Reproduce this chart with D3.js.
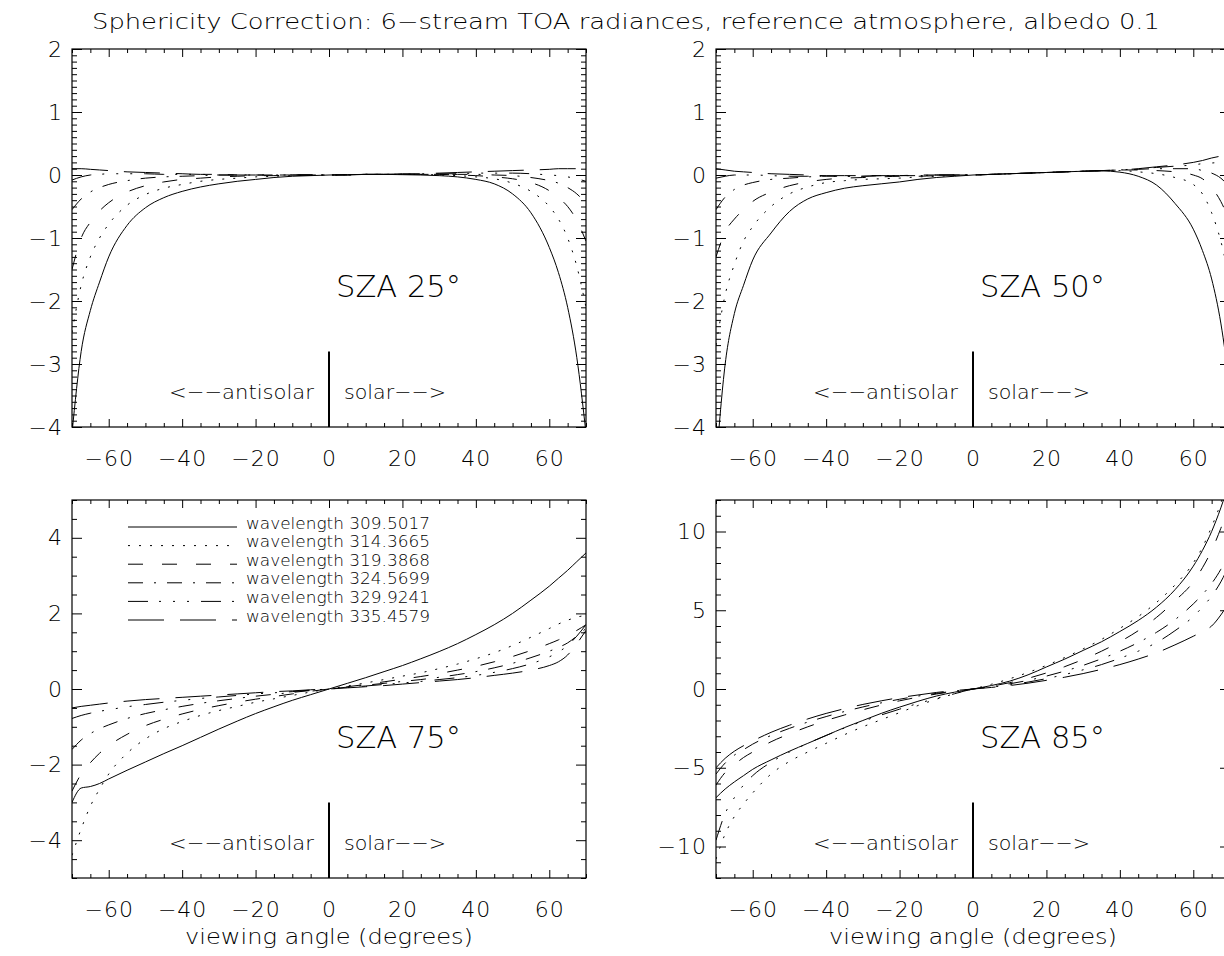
<!DOCTYPE html>
<html>
<head>
<meta charset="utf-8">
<script src="https://cdn.jsdelivr.net/npm/d3@7"></script>
<style>
  body { margin: 0; background: #fff; }
  svg { display: block; }
  text { font-family: "DejaVu Sans", sans-serif; font-weight: 200; fill: #000; }
  .tick text { font-size: 22px; letter-spacing: 1px; }
</style>
</head>
<body>
<script>
// viewing angles (degrees), negative = antisolar side
const angles = [-70,-67.5,-65,-62.5,-60,-55,-50,-45,-40,-35,-30,-25,-20,-15,-10,-5,0,
                5,10,15,20,25,30,35,40,45,50,55,60,62.5,65,67.5,70];

const wavelengths = ["309.5017", "314.3665", "319.3868", "324.5699", "329.9241", "335.4579"];

// IDL linestyles 0..5
const dashes = ["none", "2,9", "15,19", "15,11,2,11", "20,11,2,12,2,12,2,12", "36,16"];

const sza25 = [
  [-4.1,-2.8,-2.15,-1.7,-1.3,-0.8,-0.52,-0.36,-0.26,-0.19,-0.14,-0.1,-0.07,-0.04,-0.02,-0.01,0,0.005,0.01,0.01,0.005,0,-0.01,-0.03,-0.07,-0.14,-0.3,-0.6,-1.15,-1.55,-2.1,-2.9,-4.1],
  [-2.5,-1.75,-1.3,-1.0,-0.78,-0.48,-0.31,-0.21,-0.15,-0.1,-0.07,-0.05,-0.03,-0.02,-0.01,0,0,0.005,0.01,0.01,0.01,0.01,0,-0.01,-0.03,-0.06,-0.13,-0.26,-0.5,-0.7,-1.0,-1.45,-2.1],
  [-1.5,-1.0,-0.75,-0.57,-0.44,-0.27,-0.17,-0.11,-0.07,-0.05,-0.03,-0.02,-0.01,-0.01,0,0,0,0.005,0.01,0.01,0.01,0.01,0.01,0,-0.01,-0.03,-0.06,-0.12,-0.25,-0.36,-0.5,-0.72,-1.05],
  [-0.55,-0.38,-0.27,-0.2,-0.15,-0.09,-0.05,-0.03,-0.02,-0.01,0,0,0,0,0,0,0,0,0.01,0.01,0.01,0.01,0.01,0.01,0.01,0,-0.01,-0.04,-0.09,-0.13,-0.2,-0.3,-0.45],
  [-0.08,-0.03,0,0.01,0.02,0.02,0.02,0.01,0.01,0.01,0,0,0,0,0,0,0,0,0.01,0.01,0.01,0.02,0.02,0.02,0.03,0.03,0.03,0.02,0,-0.01,-0.03,-0.06,-0.1],
  [0.1,0.1,0.09,0.08,0.07,0.05,0.04,0.03,0.02,0.01,0.01,0,0,0,0,0,0,0,0.01,0.01,0.02,0.02,0.03,0.04,0.05,0.06,0.07,0.08,0.09,0.1,0.1,0.1,0.1]
];

const sza50 = [
  [-4.6,-3.0,-2.2,-1.75,-1.35,-0.92,-0.58,-0.38,-0.28,-0.21,-0.17,-0.14,-0.11,-0.07,-0.04,-0.02,0,0.01,0.02,0.03,0.04,0.05,0.06,0.065,0.045,-0.02,-0.16,-0.45,-0.86,-1.2,-1.65,-2.35,-3.4],
  [-2.7,-1.9,-1.42,-1.05,-0.82,-0.5,-0.3,-0.19,-0.12,-0.09,-0.07,-0.06,-0.05,-0.03,-0.02,-0.01,0,0.01,0.02,0.03,0.04,0.05,0.06,0.07,0.07,0.05,0.02,-0.04,-0.15,-0.3,-0.6,-1.05,-1.7],
  [-1.3,-0.9,-0.7,-0.55,-0.42,-0.27,-0.17,-0.11,-0.07,-0.05,-0.04,-0.03,-0.02,-0.02,-0.01,0,0,0.01,0.02,0.03,0.04,0.05,0.06,0.07,0.08,0.08,0.07,0.05,0,-0.06,-0.2,-0.42,-0.75],
  [-0.55,-0.35,-0.23,-0.16,-0.12,-0.07,-0.05,-0.03,-0.02,-0.02,-0.02,-0.01,-0.01,-0.01,0,0,0,0.01,0.02,0.03,0.04,0.05,0.06,0.07,0.08,0.09,0.1,0.1,0.1,0.07,0.03,-0.05,-0.2],
  [-0.05,-0.02,0,0,0,-0.01,-0.02,-0.02,-0.02,-0.02,-0.02,-0.01,-0.01,-0.01,0,0,0,0.01,0.02,0.03,0.04,0.05,0.06,0.07,0.08,0.1,0.12,0.14,0.16,0.18,0.19,0.2,0.2],
  [0.1,0.08,0.06,0.05,0.04,0.02,0.01,0,-0.01,-0.01,-0.01,-0.01,-0.01,0,0,0,0,0.01,0.02,0.03,0.04,0.05,0.06,0.07,0.08,0.1,0.13,0.16,0.2,0.23,0.27,0.3,0.33]
];

const sza75 = [
  [-3.0,-2.62,-2.58,-2.5,-2.38,-2.15,-1.93,-1.71,-1.5,-1.28,-1.06,-0.85,-0.65,-0.47,-0.3,-0.15,0,0.15,0.3,0.46,0.62,0.8,0.99,1.2,1.44,1.7,2.0,2.35,2.72,2.93,3.14,3.37,3.6],
  [-4.4,-3.7,-3.1,-2.65,-2.25,-1.7,-1.32,-1.05,-0.86,-0.7,-0.57,-0.46,-0.35,-0.26,-0.17,-0.08,0,0.08,0.16,0.25,0.34,0.43,0.54,0.66,0.8,0.96,1.15,1.37,1.6,1.72,1.82,1.9,1.95],
  [-2.7,-2.25,-1.95,-1.7,-1.5,-1.2,-0.97,-0.8,-0.66,-0.54,-0.44,-0.35,-0.27,-0.2,-0.13,-0.06,0,0.06,0.12,0.19,0.26,0.33,0.41,0.5,0.6,0.72,0.86,1.02,1.2,1.3,1.42,1.55,1.7],
  [-1.6,-1.35,-1.18,-1.05,-0.95,-0.78,-0.65,-0.55,-0.46,-0.38,-0.31,-0.25,-0.19,-0.14,-0.09,-0.04,0,0.05,0.1,0.15,0.2,0.25,0.31,0.38,0.46,0.56,0.68,0.83,1.0,1.1,1.22,1.4,1.6],
  [-0.78,-0.7,-0.64,-0.59,-0.55,-0.47,-0.41,-0.35,-0.3,-0.25,-0.21,-0.17,-0.13,-0.1,-0.07,-0.03,0,0.04,0.08,0.12,0.16,0.2,0.25,0.3,0.36,0.44,0.54,0.67,0.85,0.98,1.15,1.4,1.7],
  [-0.5,-0.46,-0.43,-0.4,-0.37,-0.32,-0.28,-0.25,-0.22,-0.19,-0.16,-0.13,-0.1,-0.07,-0.05,-0.02,0,0.03,0.06,0.09,0.13,0.17,0.21,0.25,0.3,0.36,0.42,0.5,0.62,0.72,0.9,1.2,1.55]
];

const sza85 = [
  [-6.9,-6.35,-5.9,-5.5,-5.1,-4.5,-3.95,-3.45,-2.95,-2.45,-2.0,-1.55,-1.15,-0.78,-0.45,-0.2,0,0.22,0.5,0.9,1.4,1.9,2.45,3.0,3.65,4.35,5.2,6.3,7.8,8.8,10.0,11.5,13.3],
  [-10.8,-9.2,-8.1,-7.3,-6.6,-5.4,-4.6,-4.0,-3.45,-2.9,-2.4,-1.95,-1.5,-1.05,-0.65,-0.3,0,0.3,0.65,1.05,1.5,2.0,2.55,3.15,3.85,4.6,5.5,6.6,8.0,9.0,10.3,11.8,13.6],
  [-6.1,-5.3,-4.8,-4.35,-4.0,-3.35,-2.85,-2.4,-2.0,-1.65,-1.32,-1.02,-0.75,-0.52,-0.32,-0.15,0,0.18,0.4,0.68,1.02,1.42,1.88,2.4,3.0,3.7,4.55,5.6,6.8,7.7,8.8,10.2,11.8],
  [-5.4,-4.7,-4.2,-3.85,-3.5,-2.95,-2.5,-2.1,-1.75,-1.43,-1.14,-0.88,-0.65,-0.45,-0.28,-0.13,0,0.15,0.33,0.55,0.82,1.14,1.5,1.92,2.4,2.95,3.6,4.4,5.4,6.0,6.7,7.6,8.8],
  [-9.6,-7.9,-6.9,-6.1,-5.5,-4.65,-4.0,-3.45,-2.95,-2.48,-2.05,-1.65,-1.28,-0.92,-0.6,-0.3,0,0.12,0.26,0.44,0.66,0.92,1.22,1.55,1.95,2.4,2.95,3.7,4.6,5.2,5.9,6.8,8.0],
  [-5.0,-4.4,-3.95,-3.6,-3.3,-2.75,-2.3,-1.9,-1.55,-1.25,-0.98,-0.75,-0.55,-0.38,-0.22,-0.1,0,0.1,0.22,0.37,0.55,0.75,0.98,1.25,1.55,1.9,2.3,2.8,3.35,3.65,4.0,4.7,5.6]
];

const xTicks = [-60, -40, -20, 0, 20, 40, 60];
const yTicksTop = [-4, -3, -2, -1, 0, 1, 2];
const yTicks75 = [-4, -2, 0, 2, 4];
const yTicks85 = [-10, -5, 0, 5, 10];

const title = "Sphericity Correction: 6\u2212stream TOA radiances, reference atmosphere, albedo 0.1";

const panels = [
  { label: "SZA 25\u00b0", data: sza25, col: 0, row: 0, ydom: [-4, 2],   yticks: yTicksTop, ystep: 0.1 },
  { label: "SZA 50\u00b0", data: sza50, col: 1, row: 0, ydom: [-4, 2],   yticks: yTicksTop, ystep: 0.1 },
  { label: "SZA 75\u00b0", data: sza75, col: 0, row: 1, ydom: [-5, 5],   yticks: yTicks75,  ystep: 0.5, legend: true },
  { label: "SZA 85\u00b0", data: sza85, col: 1, row: 1, ydom: [-12, 12], yticks: yTicks85,  ystep: 1 }
];

const W = 1224, H = 956;
const colX = [72, 716], rowY = [49, 500];
const pw = 514, ph = 378;

const svg = d3.select("body").append("svg").attr("width", W).attr("height", H);

svg.append("text")
  .attr("x", 92).attr("y", 29)
  .attr("textLength", 1068).attr("lengthAdjust", "spacingAndGlyphs")
  .style("font-size", "22px")
  .text(title);

const fmt = d => d3.format("d")(d);

panels.forEach((p, i) => {
  const x0 = colX[p.col], y0 = rowY[p.row];
  const x = d3.scaleLinear().domain([-70, 70]).range([x0, x0 + pw]);
  const y = d3.scaleLinear().domain(p.ydom).range([y0 + ph, y0]);
  const g = svg.append("g");

  svg.append("clipPath").attr("id", "clip" + i)
    .append("rect").attr("x", x0).attr("y", y0).attr("width", pw).attr("height", ph);

  const line = d3.line()
    .x((d, j) => x(angles[j]))
    .y(d => y(d))
    .curve(d3.curveMonotoneX);

  g.append("g").attr("clip-path", `url(#clip${i})`)
    .selectAll("path").data(p.data).join("path")
    .attr("d", line)
    .attr("fill", "none").attr("stroke", "#000").attr("stroke-width", 1)
    .attr("stroke-dasharray", (d, k) => dashes[k]);

  // minor tick positions
  const xMinor = d3.range(-70, 70.01, 5).filter(v => !xTicks.includes(v));
  const yMinor = d3.range(p.ydom[0], p.ydom[1] + p.ystep / 2, p.ystep)
    .map(v => +v.toFixed(3)).filter(v => !p.yticks.includes(v));

  const noDomain = s => s.select(".domain").remove();

  // bottom
  g.append("g").attr("transform", `translate(0,${y0 + ph})`)
    .call(d3.axisBottom(x).tickValues(xTicks).tickSize(-8).tickPadding(23).tickFormat(fmt))
    .call(noDomain);
  g.append("g").attr("transform", `translate(0,${y0 + ph})`)
    .call(d3.axisBottom(x).tickValues(xMinor).tickSize(-4).tickFormat(""))
    .call(noDomain);
  // top
  g.append("g").attr("transform", `translate(0,${y0})`)
    .call(d3.axisTop(x).tickValues(xTicks).tickSize(-8).tickFormat(""))
    .call(noDomain);
  g.append("g").attr("transform", `translate(0,${y0})`)
    .call(d3.axisTop(x).tickValues(xMinor).tickSize(-4).tickFormat(""))
    .call(noDomain);
  // left
  g.append("g").attr("transform", `translate(${x0},0)`)
    .call(d3.axisLeft(y).tickValues(p.yticks).tickSize(-10).tickPadding(9).tickFormat(fmt))
    .call(noDomain);
  g.append("g").attr("transform", `translate(${x0},0)`)
    .call(d3.axisLeft(y).tickValues(yMinor).tickSize(-5).tickFormat(""))
    .call(noDomain);
  // right
  g.append("g").attr("transform", `translate(${x0 + pw},0)`)
    .call(d3.axisRight(y).tickValues(p.yticks).tickSize(-10).tickFormat(""))
    .call(noDomain);
  g.append("g").attr("transform", `translate(${x0 + pw},0)`)
    .call(d3.axisRight(y).tickValues(yMinor).tickSize(-5).tickFormat(""))
    .call(noDomain);

  g.append("rect")
    .attr("x", x0).attr("y", y0).attr("width", pw).attr("height", ph)
    .attr("fill", "none").attr("stroke", "#000").attr("stroke-width", 1.2);

  // solar / antisolar divider
  const xc = x(0);
  g.append("line")
    .attr("x1", xc).attr("x2", xc)
    .attr("y1", y0 + ph * 0.8).attr("y2", y0 + ph)
    .attr("stroke", "#000").attr("stroke-width", 2);
  g.append("text")
    .attr("x", xc - 15).attr("y", y0 + ph - 28)
    .attr("text-anchor", "end")
    .attr("textLength", 145).attr("lengthAdjust", "spacingAndGlyphs")
    .style("font-size", "20px")
    .text("<\u2212\u2212antisolar");
  g.append("text")
    .attr("x", xc + 15).attr("y", y0 + ph - 28)
    .attr("textLength", 102).attr("lengthAdjust", "spacingAndGlyphs")
    .style("font-size", "20px")
    .text("solar\u2212\u2212>");

  g.append("text")
    .attr("x", xc + 7).attr("y", y0 + ph * 0.656)
    .attr("textLength", 125).attr("lengthAdjust", "spacingAndGlyphs")
    .style("font-size", "31px")
    .text(p.label);

  if (p.row === 1) {
    g.append("text")
      .attr("x", xc - 144).attr("y", y0 + ph + 66)
      .attr("textLength", 288).attr("lengthAdjust", "spacingAndGlyphs")
      .style("font-size", "22px")
      .text("viewing angle (degrees)");
  }

  if (p.legend) {
    const lg = g.append("g");
    wavelengths.forEach((w, k) => {
      const cy = y0 + 23 + k * 18.6;
      lg.append("line")
        .attr("x1", x0 + 56).attr("x2", x0 + 165)
        .attr("y1", cy + 4).attr("y2", cy + 4)
        .attr("stroke", "#000").attr("stroke-width", 1)
        .attr("stroke-dasharray", dashes[k]);
      lg.append("text")
        .attr("x", x0 + 174).attr("y", cy + 5.5)
        .attr("textLength", 184).attr("lengthAdjust", "spacingAndGlyphs")
        .style("font-size", "16px")
        .text("wavelength  " + w);
    });
  }
});
</script>
</body>
</html>
